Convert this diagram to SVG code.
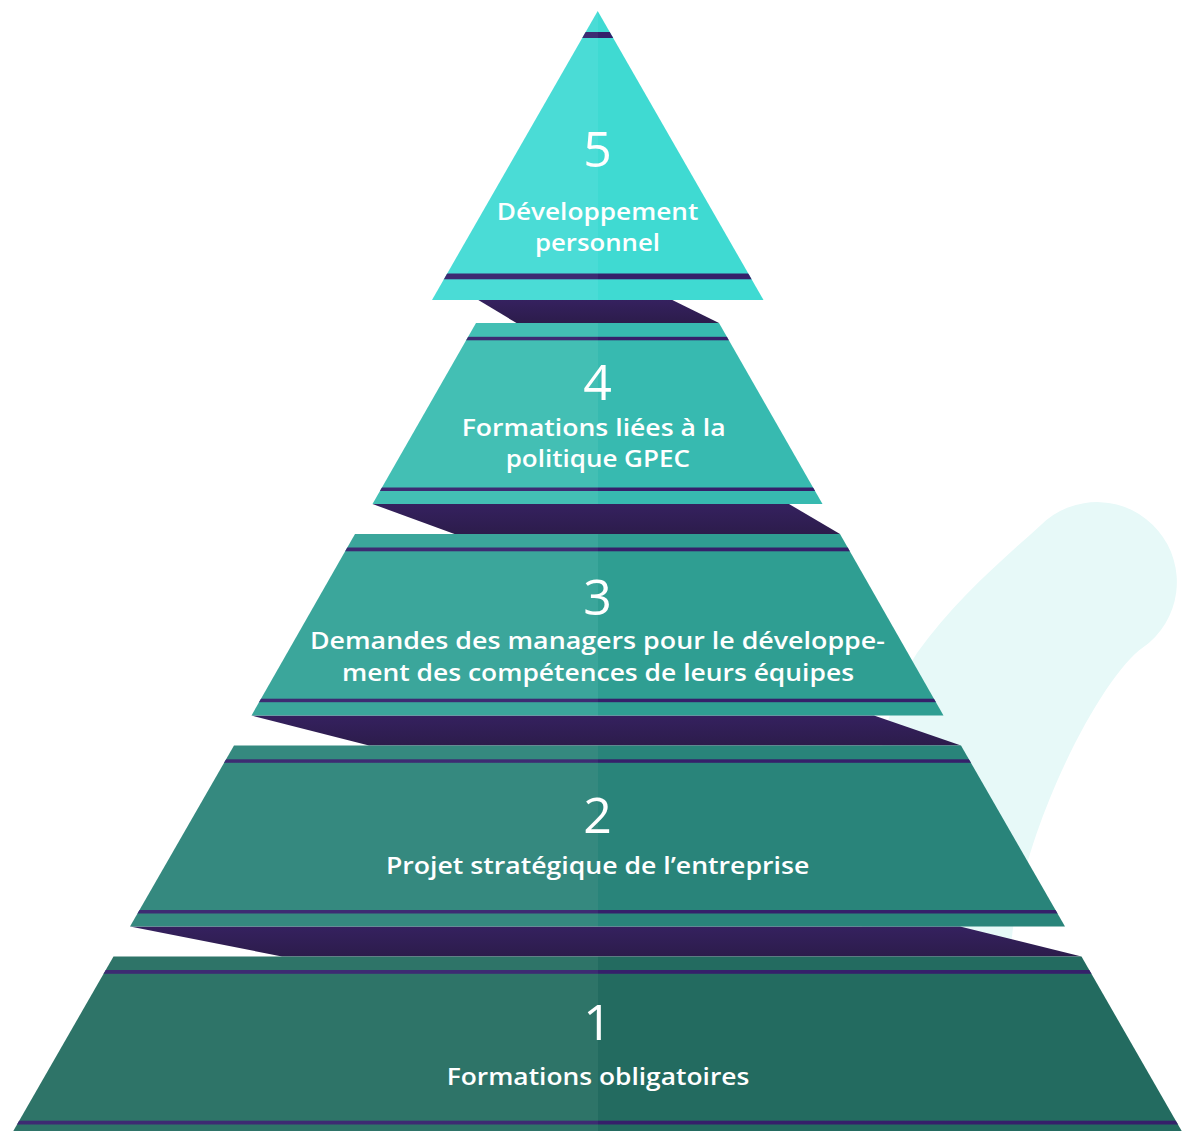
<svg xmlns="http://www.w3.org/2000/svg" width="1186" height="1131" viewBox="0 0 1186 1131">
  <style>
    .num { font-family: "Open Sans", "Noto Sans", sans-serif; font-weight: 400; font-size: 50px; fill: #ffffff; text-anchor: middle; }
    .lbl { font-family: "Open Sans", "Noto Sans", sans-serif; font-weight: 600; font-size: 24px; fill: #ffffff; text-anchor: middle; }
    .stripe { fill: url(#gStripe); }
    .shadow { fill: url(#gShadow); }
  </style>
  <defs>
    <linearGradient id="g5" gradientUnits="userSpaceOnUse" x1="0" y1="0" x2="1186" y2="0">
      <stop offset="0.5038" stop-color="#4adcd6"/><stop offset="0.5038" stop-color="#3fdad2"/>
    </linearGradient>
    <linearGradient id="g4" gradientUnits="userSpaceOnUse" x1="0" y1="0" x2="1186" y2="0">
      <stop offset="0.5038" stop-color="#43bfb4"/><stop offset="0.5038" stop-color="#37bab0"/>
    </linearGradient>
    <linearGradient id="g3" gradientUnits="userSpaceOnUse" x1="0" y1="0" x2="1186" y2="0">
      <stop offset="0.5038" stop-color="#3ba69b"/><stop offset="0.5038" stop-color="#2f9e92"/>
    </linearGradient>
    <linearGradient id="g2" gradientUnits="userSpaceOnUse" x1="0" y1="0" x2="1186" y2="0">
      <stop offset="0.5038" stop-color="#35897f"/><stop offset="0.5038" stop-color="#29847a"/>
    </linearGradient>
    <linearGradient id="g1" gradientUnits="userSpaceOnUse" x1="0" y1="0" x2="1186" y2="0">
      <stop offset="0.5038" stop-color="#2e7468"/><stop offset="0.5038" stop-color="#236b60"/>
    </linearGradient>
    <linearGradient id="gStripe" gradientUnits="userSpaceOnUse" x1="0" y1="0" x2="1186" y2="0">
      <stop offset="0.5038" stop-color="#3d2b72"/><stop offset="0.5038" stop-color="#35206a"/>
    </linearGradient>
    <linearGradient id="gShadow" x1="0" y1="0" x2="0" y2="1">
      <stop offset="0" stop-color="#35215f"/><stop offset="1" stop-color="#2c1c4b"/>
    </linearGradient>
    <clipPath id="c5"><polygon points="597.7,11 763.5,300 432,300"/></clipPath>
    <clipPath id="c4"><polygon points="476,323 719,323 822.5,504 372.5,504"/></clipPath>
    <clipPath id="c3"><polygon points="355,534 840,534 943.5,715.5 251.5,715.5"/></clipPath>
    <clipPath id="c2"><polygon points="234,745.5 961,745.5 1065,926.5 130,926.5"/></clipPath>
    <clipPath id="c1"><polygon points="113.5,956.5 1081.5,956.5 1184,1135 11,1135"/></clipPath>
  </defs>

  <g id="background">
    <path d="M 1010 960 C 1015 840 1100 677 1142.9 647.5 A 80 80 0 1 0 1040.4 525.4 C 1000 562 955 600 917 653 C 890 695 870 760 860 960 Z" fill="#e7f9f8"/>
  </g>

  <g id="connectors">
    <polygon class="shadow" points="478.3,300 672.3,300 719,323 516.5,323"/>
    <polygon class="shadow" points="372.5,504 789,504 840,534 454.5,534"/>
    <polygon class="shadow" points="251.5,715.5 874,715.5 961,745.5 369,745.5"/>
    <polygon class="shadow" points="130,926.5 960,926.5 1081.5,956.5 282,956.5"/>
  </g>

  <g id="tier-5">
    <polygon points="597.7,11 763.5,300 432,300" fill="url(#g5)"/>
    <g clip-path="url(#c5)">
      <rect class="stripe" x="0" y="32" width="1186" height="6"/>
      <rect class="stripe" x="0" y="273.5" width="1186" height="5.8"/>
    </g>
    <text class="num" x="597.5" y="166.5">5</text>
    <text class="lbl" x="597.5" y="220" textLength="201.6" lengthAdjust="spacingAndGlyphs">Développement</text>
    <text class="lbl" x="597.5" y="251" textLength="125" lengthAdjust="spacingAndGlyphs">personnel</text>
  </g>

  <g id="tier-4">
    <polygon points="476,323 719,323 822.5,504 372.5,504" fill="url(#g4)"/>
    <g clip-path="url(#c4)">
      <rect class="stripe" x="0" y="336.8" width="1186" height="3.5"/>
      <rect class="stripe" x="0" y="487.5" width="1186" height="3.5"/>
    </g>
    <text class="num" x="597.5" y="400">4</text>
    <text class="lbl" x="593.7" y="436" textLength="264" lengthAdjust="spacingAndGlyphs">Formations liées à la</text>
    <text class="lbl" x="597.8" y="467.3" textLength="184.3" lengthAdjust="spacingAndGlyphs">politique GPEC</text>
  </g>

  <g id="tier-3">
    <polygon points="355,534 840,534 943.5,715.5 251.5,715.5" fill="url(#g3)"/>
    <g clip-path="url(#c3)">
      <rect class="stripe" x="0" y="547.5" width="1186" height="3.8"/>
      <rect class="stripe" x="0" y="698.7" width="1186" height="3.5"/>
    </g>
    <text class="num" x="597.5" y="615">3</text>
    <text class="lbl" x="597.4" y="649.3" textLength="575" lengthAdjust="spacingAndGlyphs">Demandes des managers pour le développe-</text>
    <text class="lbl" x="598" y="680.7" textLength="512" lengthAdjust="spacingAndGlyphs">ment des compétences de leurs équipes</text>
  </g>

  <g id="tier-2">
    <polygon points="234,745.5 961,745.5 1065,926.5 130,926.5" fill="url(#g2)"/>
    <g clip-path="url(#c2)">
      <rect class="stripe" x="0" y="759.3" width="1186" height="3.5"/>
      <rect class="stripe" x="0" y="910" width="1186" height="3.5"/>
    </g>
    <text class="num" x="597.5" y="833.3">2</text>
    <text class="lbl" x="597.6" y="874" textLength="423.3" lengthAdjust="spacingAndGlyphs">Projet stratégique de l’entreprise</text>
  </g>

  <g id="tier-1">
    <polygon points="113.5,956.5 1081.5,956.5 1184,1135 11,1135" fill="url(#g1)"/>
    <g clip-path="url(#c1)">
      <rect class="stripe" x="0" y="970" width="1186" height="3.8"/>
      <rect class="stripe" x="0" y="1120.7" width="1186" height="3.8"/>
    </g>
    <text class="num" x="597.5" y="1040">1</text>
    <text class="lbl" x="598" y="1085" textLength="302.6" lengthAdjust="spacingAndGlyphs">Formations obligatoires</text>
  </g>
</svg>
